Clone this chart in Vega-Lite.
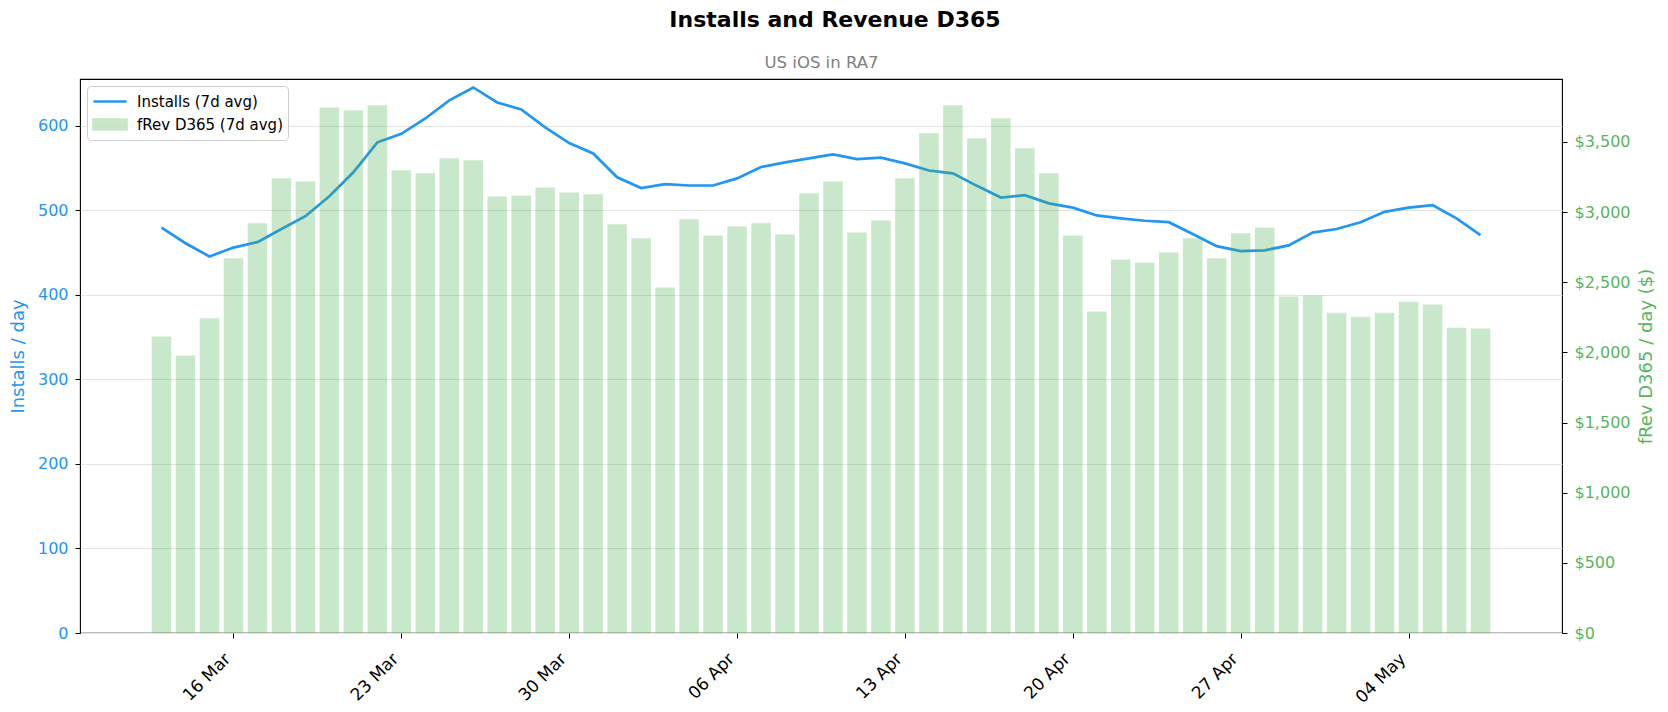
{
  "$schema": "https://vega.github.io/schema/vega-lite/v6.json",
  "width": 1482,
  "height": 554,
  "autosize": {"type": "none"},
  "padding": {"left": 80, "top": 79, "right": 106, "bottom": 79},
  "background": "white",
  "config": {
    "font": "DejaVu Sans",
    "view": {"stroke": "black", "strokeWidth": 1.1},
    "axis": {"labelFont": "DejaVu Sans", "titleFont": "DejaVu Sans", "titleFontWeight": "normal"}
  },
  "title": {
    "text": "Installs and Revenue D365",
    "fontSize": 22,
    "fontWeight": "bold",
    "color": "black",
    "anchor": "middle",
    "offset": 22,
    "dx": 14
  },
  "data": {
    "values": [
      {"date": "2025-03-13", "installs": 479.3, "revenue": 2113},
      {"date": "2025-03-14", "installs": 460.8, "revenue": 1978},
      {"date": "2025-03-15", "installs": 445.2, "revenue": 2243},
      {"date": "2025-03-16", "installs": 455.7, "revenue": 2671},
      {"date": "2025-03-17", "installs": 462.1, "revenue": 2921},
      {"date": "2025-03-18", "installs": 477.7, "revenue": 3242},
      {"date": "2025-03-19", "installs": 492.8, "revenue": 3219},
      {"date": "2025-03-20", "installs": 516.4, "revenue": 3746},
      {"date": "2025-03-21", "installs": 544.7, "revenue": 3726},
      {"date": "2025-03-22", "installs": 580.1, "revenue": 3761},
      {"date": "2025-03-23", "installs": 590.2, "revenue": 3298},
      {"date": "2025-03-24", "installs": 608.3, "revenue": 3277},
      {"date": "2025-03-25", "installs": 629.8, "revenue": 3384},
      {"date": "2025-03-26", "installs": 645.0, "revenue": 3369},
      {"date": "2025-03-27", "installs": 627.3, "revenue": 3112},
      {"date": "2025-03-28", "installs": 618.9, "revenue": 3119},
      {"date": "2025-03-29", "installs": 597.8, "revenue": 3175},
      {"date": "2025-03-30", "installs": 579.2, "revenue": 3140},
      {"date": "2025-03-31", "installs": 567.0, "revenue": 3127},
      {"date": "2025-04-01", "installs": 538.8, "revenue": 2913},
      {"date": "2025-04-02", "installs": 526.1, "revenue": 2813},
      {"date": "2025-04-03", "installs": 530.8, "revenue": 2462},
      {"date": "2025-04-04", "installs": 529.1, "revenue": 2949},
      {"date": "2025-04-05", "installs": 529.1, "revenue": 2834},
      {"date": "2025-04-06", "installs": 537.5, "revenue": 2898},
      {"date": "2025-04-07", "installs": 551.0, "revenue": 2920},
      {"date": "2025-04-08", "installs": 556.5, "revenue": 2841},
      {"date": "2025-04-09", "installs": 561.1, "revenue": 3135},
      {"date": "2025-04-10", "installs": 565.8, "revenue": 3219},
      {"date": "2025-04-11", "installs": 560.3, "revenue": 2854},
      {"date": "2025-04-12", "installs": 562.0, "revenue": 2941},
      {"date": "2025-04-13", "installs": 555.2, "revenue": 3242},
      {"date": "2025-04-14", "installs": 546.8, "revenue": 3563},
      {"date": "2025-04-15", "installs": 543.4, "revenue": 3761},
      {"date": "2025-04-16", "installs": 528.7, "revenue": 3527},
      {"date": "2025-04-17", "installs": 514.8, "revenue": 3670},
      {"date": "2025-04-18", "installs": 517.7, "revenue": 3456},
      {"date": "2025-04-19", "installs": 508.0, "revenue": 3277},
      {"date": "2025-04-20", "installs": 502.9, "revenue": 2834},
      {"date": "2025-04-21", "installs": 493.7, "revenue": 2291},
      {"date": "2025-04-22", "installs": 490.3, "revenue": 2663},
      {"date": "2025-04-23", "installs": 487.4, "revenue": 2640},
      {"date": "2025-04-24", "installs": 485.7, "revenue": 2712},
      {"date": "2025-04-25", "installs": 471.8, "revenue": 2813},
      {"date": "2025-04-26", "installs": 457.4, "revenue": 2671},
      {"date": "2025-04-27", "installs": 451.5, "revenue": 2849},
      {"date": "2025-04-28", "installs": 452.4, "revenue": 2890},
      {"date": "2025-04-29", "installs": 458.3, "revenue": 2398},
      {"date": "2025-04-30", "installs": 473.4, "revenue": 2406},
      {"date": "2025-05-01", "installs": 477.7, "revenue": 2283},
      {"date": "2025-05-02", "installs": 485.7, "revenue": 2255},
      {"date": "2025-05-03", "installs": 497.9, "revenue": 2283},
      {"date": "2025-05-04", "installs": 502.9, "revenue": 2362},
      {"date": "2025-05-05", "installs": 505.9, "revenue": 2342},
      {"date": "2025-05-06", "installs": 490.3, "revenue": 2176},
      {"date": "2025-05-07", "installs": 470.5, "revenue": 2171}
    ]
  },
  "layer": [
    {
      "mark": {"type": "line", "strokeWidth": 2.7},
      "encoding": {
        "x": {
          "field": "date",
          "type": "temporal",
          "scale": {
            "type": "utc",
            "domain": [
              {"year": 2025, "month": 3, "date": 9, "hours": 19, "minutes": 26, "utc": true},
              {"year": 2025, "month": 5, "date": 10, "hours": 4, "minutes": 34, "utc": true}
            ]
          },
          "axis": {
            "orient": "bottom",
            "title": null,
            "values": [
              {"year": 2025, "month": 3, "date": 16, "utc": true},
              {"year": 2025, "month": 3, "date": 23, "utc": true},
              {"year": 2025, "month": 3, "date": 30, "utc": true},
              {"year": 2025, "month": 4, "date": 6, "utc": true},
              {"year": 2025, "month": 4, "date": 13, "utc": true},
              {"year": 2025, "month": 4, "date": 20, "utc": true},
              {"year": 2025, "month": 4, "date": 27, "utc": true},
              {"year": 2025, "month": 5, "date": 4, "utc": true}
            ],
            "labelExpr": "utcFormat(datum.value, '%d %b')",
            "labelAngle": -45,
            "labelAlign": "right",
            "labelBaseline": "middle",
            "labelPadding": 18,
            "labelOffset": -6,
            "labelFontSize": 17,
            "labelColor": "black",
            "labelFlush": false,
            "labelOverlap": false,
            "domain": false,
            "grid": false,
            "ticks": true,
            "tickColor": "black",
            "tickSize": 5
          }
        },
        "y": {
          "field": "installs",
          "type": "quantitative",
          "scale": {"domain": [0, 655], "nice": false, "zero": true},
          "axis": {
            "orient": "left",
            "title": "Installs / day",
            "titleColor": "#2196F3",
            "titleFontSize": 18,
            "titlePadding": 10,
            "values": [0, 100, 200, 300, 400, 500, 600],
            "labelColor": "#2196F3",
            "labelFontSize": 16,
            "labelPadding": 7,
            "domain": false,
            "ticks": true,
            "tickColor": "black",
            "tickSize": 5,
            "grid": true,
            "gridColor": "#e3e3e3",
            "gridWidth": 1
          }
        },
        "color": {
          "datum": "Installs (7d avg)",
          "type": "nominal",
          "scale": {
            "domain": ["Installs (7d avg)", "fRev D365 (7d avg)"],
            "range": ["#2196F3", "#4CAF50"]
          },
          "legend": {
            "title": null,
            "orient": "top-left",
            "offset": 7,
            "fillColor": "rgba(255,255,255,0.8)",
            "strokeColor": "#cccccc",
            "cornerRadius": 4,
            "padding": 5,
            "labelFontSize": 15,
            "labelColor": "black",
            "labelOffset": 9,
            "symbolSize": 1089,
            "symbolStrokeWidth": 2.6,
            "clipHeight": 21,
            "rowPadding": 2,
            "encode": {
              "symbols": {
                "update": {
                  "shape": {"signal": "datum.value === 'Installs (7d avg)' ? 'stroke' : 'M-1,-0.3H1V0.3H-1Z'"},
                  "fill": {"signal": "datum.value === 'Installs (7d avg)' ? 'transparent' : '#4CAF50'"},
                  "stroke": {"signal": "datum.value === 'Installs (7d avg)' ? '#2196F3' : 'transparent'"},
                  "opacity": {"signal": "datum.value === 'Installs (7d avg)' ? 1 : 0.3"},
                  "strokeWidth": {"value": 2.6},
                  "size": {"value": 1089}
                }
              }
            }
          }
        }
      }
    },
    {
      "mark": {"type": "bar", "width": 19.5, "opacity": 0.3},
      "encoding": {
        "x": {
          "field": "date",
          "type": "temporal",
          "axis": {
            "orient": "top",
            "title": "US iOS in RA7",
            "titleColor": "gray",
            "titleFontSize": 16.5,
            "titlePadding": 9,
            "labels": false,
            "ticks": false,
            "domain": false,
            "grid": false
          }
        },
        "y": {
          "field": "revenue",
          "type": "quantitative",
          "scale": {"domain": [0, 3949], "nice": false, "zero": true},
          "axis": {
            "orient": "right",
            "title": "fRev D365 / day ($)",
            "titleColor": "#57B65B",
            "titleFontSize": 18,
            "titleAngle": -90,
            "titleBaseline": "top",
            "titlePadding": 8,
            "values": [0, 500, 1000, 1500, 2000, 2500, 3000, 3500],
            "format": "$,.0f",
            "labelColor": "#57B65B",
            "labelFontSize": 16,
            "labelPadding": 7,
            "domain": false,
            "ticks": true,
            "tickColor": "black",
            "tickSize": 5,
            "grid": false
          }
        },
        "color": {"datum": "fRev D365 (7d avg)", "type": "nominal"}
      }
    }
  ],
  "resolve": {
    "scale": {"y": "independent"},
    "axis": {"x": "independent", "y": "independent"}
  }
}
